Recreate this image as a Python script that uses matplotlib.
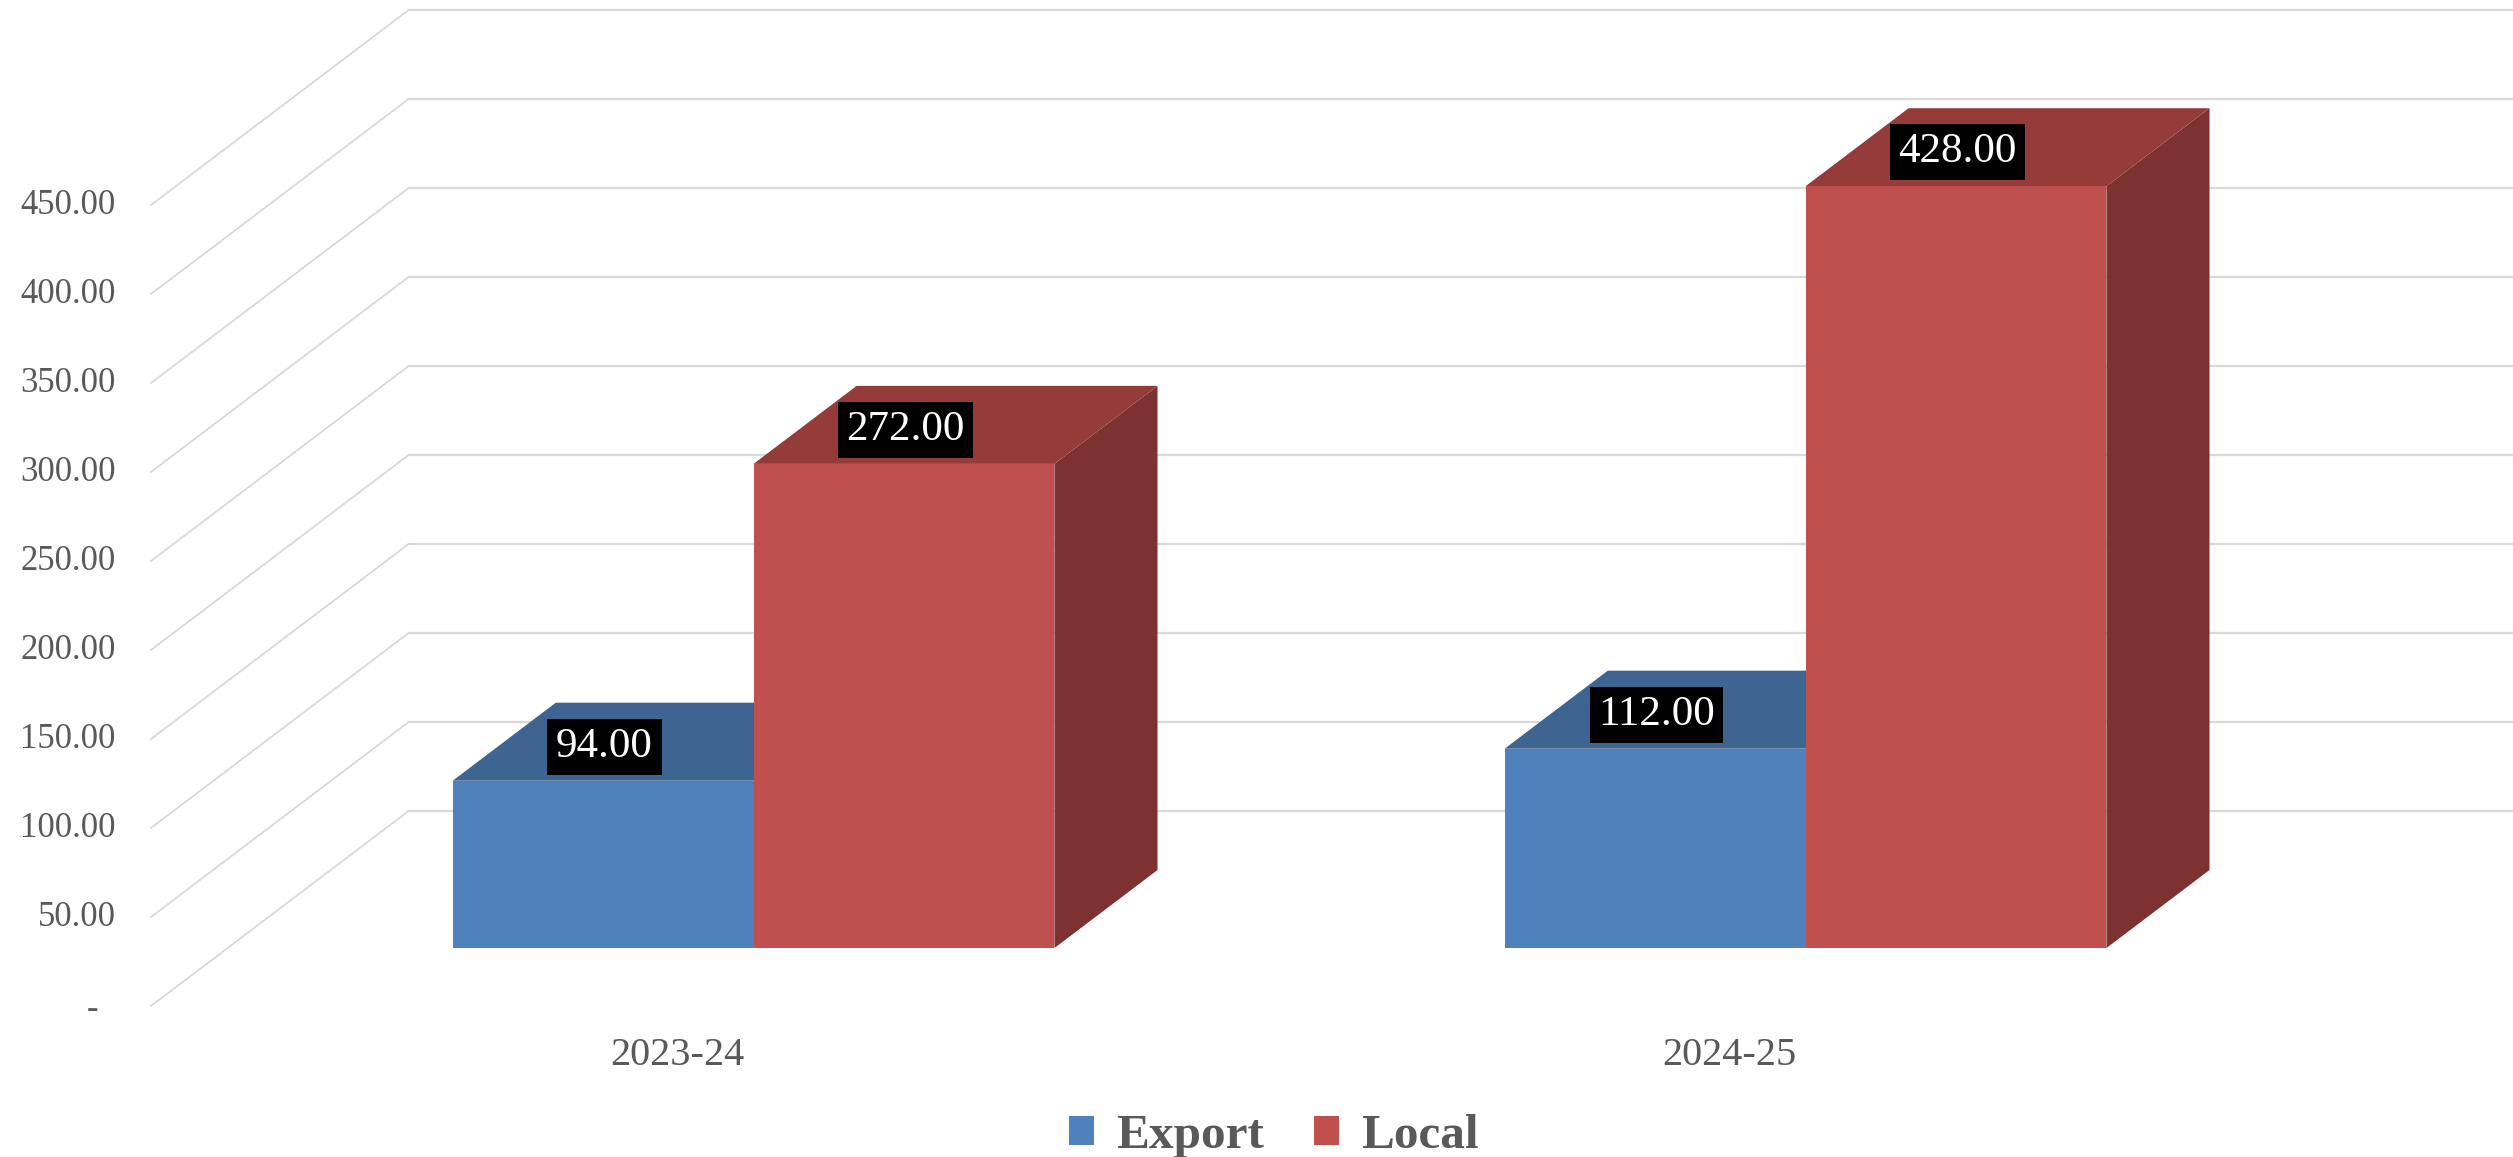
import numpy as np
import matplotlib
matplotlib.use("Agg")
import matplotlib.pyplot as plt
from matplotlib.patches import Patch
from matplotlib.transforms import ScaledTranslation

plt.rcParams['font.family'] = ['Liberation Serif', 'DejaVu Serif']

# Data
categories = ['2023-24', '2024-25']
export = [94.0, 112.0]
local = [272.0, 428.0]
y_ticks = [0, 50, 100, 150, 200, 250, 300, 350, 400, 450]

# Fake 3D setup: how far the back wall shifts from the front plane
DEPTH_X = 0.245   # category units
DEPTH_Y = 109.6   # value units
BAR_W = 0.286
BAR_D0 = 0.297
BAR_D1 = 0.697

GREY = '#595959'
GRID = '#D9D9D9'
series = [
    ('Export', export, -1, '#4F81BD', '#3E6492', '#335379'),
    ('Local', local, 0, '#C0504D', '#953B39', '#7D3231'),
]


def project(x, v, d):
    return x + d*DEPTH_X, v + d*DEPTH_Y


def face(ax, pts, color, z):
    xy = [project(*p) for p in pts]
    ax.fill([q[0] for q in xy], [q[1] for q in xy], color=color, lw=0, zorder=z, clip_on=False)


fig = plt.figure(figsize=(25.13, 11.57), dpi=100)
ax = fig.add_axes([151/2513, (1157-1006)/1157, 2104/2513, 801/1157])
ax.set_xlim(-0.5, 1.5)
ax.set_ylim(0, 450)
for s in ax.spines.values():
    s.set_visible(False)

# Gridlines: side wall then back wall
for v in y_ticks:
    p0 = project(-0.5, v, 0)
    p1 = project(-0.5, v, 1)
    p2 = project(1.5, v, 1)
    ax.plot([p0[0], p1[0]], [p0[1], p1[1]], color=GRID, lw=1.3, zorder=1, clip_on=False)
    ax.plot([p1[0], p2[0]], [p1[1], p2[1]], color=GRID, lw=1.6, zorder=1, clip_on=False)

# Bars
z = 2
for name, vals, side, c_front, c_top, c_side in series:
    for i, v in enumerate(vals):
        x0 = i + side*BAR_W
        x1 = x0 + BAR_W
        face(ax, [(x1, 0, BAR_D0), (x1, 0, BAR_D1), (x1, v, BAR_D1), (x1, v, BAR_D0)], c_side, z)
        face(ax, [(x0, v, BAR_D0), (x1, v, BAR_D0), (x1, v, BAR_D1), (x0, v, BAR_D1)], c_top, z)
        face(ax, [(x0, 0, BAR_D0), (x1, 0, BAR_D0), (x1, v, BAR_D0), (x0, v, BAR_D0)], c_front, z+0.1)
    z += 1

# Data labels
for name, vals, side, c_front, c_top, c_side in series:
    for i, v in enumerate(vals):
        xc = i + side*BAR_W + BAR_W/2
        ax.annotate('%.2f' % v, xy=project(xc, v, BAR_D0), xytext=(1, 24.5), textcoords='offset points',
                    ha='center', va='center', color='white', fontsize=31, zorder=10, annotation_clip=False,
                    bbox=dict(boxstyle='square,pad=0.2', fc='black', ec='none'))

# Axis labels
ax.set_yticks(y_ticks)
ax.set_yticklabels(['%.2f' % v if v > 0 else '-\u00a0\u00a0' for v in y_ticks])
ax.set_xticks(range(len(categories)))
ax.set_xticklabels(categories)
ax.tick_params(axis='y', length=0, pad=25.5, labelsize=25, labelcolor=GREY)
ax.tick_params(axis='x', length=0, pad=22, labelsize=29, labelcolor=GREY)
for lab, v in zip(ax.get_yticklabels(), y_ticks):
    if v > 0:
        lab.set_transform(lab.get_transform() + ScaledTranslation(0, 2.5/72, fig.dpi_scale_trans))

handles = [Patch(color=s[3], lw=0, label=s[0]) for s in series]
fig.legend(handles=handles, loc='center', bbox_to_anchor=(1274/2513, 1-1136/1157), ncol=2, frameon=False,
           prop={'size': 35.5, 'weight': 'bold'}, labelcolor=GREY, handlelength=0.52, handleheight=0.52,
           handletextpad=0.45, columnspacing=1.0, borderpad=0, borderaxespad=0)

plt.savefig("out.png", dpi=100)
